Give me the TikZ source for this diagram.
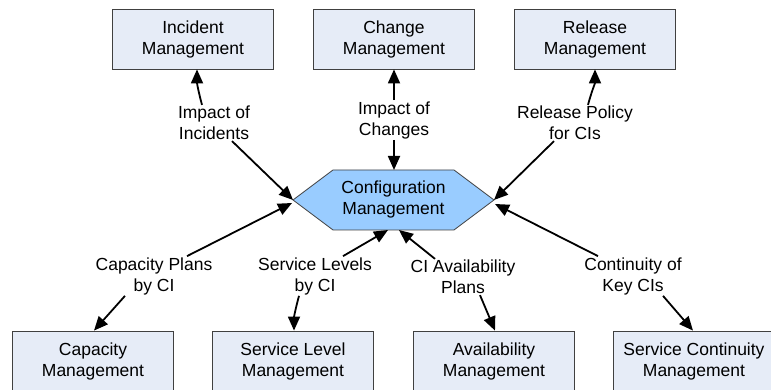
\documentclass[tikz,border=0pt]{standalone}
\usepackage{fontspec}
\setmainfont{Liberation Sans}
\usetikzlibrary{arrows.meta}

\definecolor{boxfill}{RGB}{230,236,247}
\definecolor{hexfill}{RGB}{153,204,255}
\definecolor{edgegray}{RGB}{64,64,64}

\begin{document}
\begin{tikzpicture}[x=1pt, y=1pt,
my box/.style = {draw=edgegray, fill=boxfill,
                 line width=0.8pt,
                 minimum width=161pt, minimum height=60pt,
                 align=center, inner sep=0pt,
                 font=\fontsize{17.5}{21}\selectfont},
my label/.style = {align=center, inner sep=1pt,
                   font=\fontsize{17.5}{21}\selectfont},
my arrow/.style = {-{Triangle[length=14pt, width=12pt]},
                   line width=1.8pt}
                   ]
\useasboundingbox (0,0) rectangle (771,390);

% hexagon
\draw[draw=edgegray, fill=hexfill, line width=0.8pt]
    (293,190) coordinate (cfg W) -- (333,220) -- (454,220) --
    (494,190) coordinate (cfg E) -- (454,160) -- (333,160) -- cycle;
\node[my label] (cfg) at (393.5,190.5) {Configuration\\Management};
\coordinate (cfg N)  at (394,220);
\coordinate (cfg SW) at (292,187);
\coordinate (cfg SE) at (495,186);
\coordinate (cfg S1) at (388,160);
\coordinate (cfg S2) at (399,160);

% top boxes
\node[my box] (inc) at (193,351) {Incident\\Management};
\node[my box] (chg) at (394,351) {Change\\Management};
\node[my box] (rel) at (595,351) {Release\\Management};

% bottom boxes
\node[my box] (cap) at (93,29)  {Capacity\\Management};
\node[my box] (slm) at (293,29) {Service Level\\Management};
\node[my box] (avl) at (494,29) {Availability\\Management};
\node[my box] (con) at (694,29) {Service Continuity\\Management};

% labels
\node[my label] (lbl inc) at (214,267) {Impact of\\Incidents};
\node[my label] (lbl chg) at (394,270) {Impact of\\Changes};
\node[my label] (lbl rel) at (575,267) {Release Policy\\for CIs};
\node[my label] (lbl cap) at (154,114) {Capacity Plans\\by CI};
\node[my label] (lbl slm) at (315,114) {Service Levels\\by CI};
\node[my label] (lbl avl) at (463,113) {CI Availability\\Plans};
\node[my label] (lbl con) at (633,114) {Continuity of\\Key CIs};

% arrows
\draw[my arrow] ([xshift=-12pt]lbl inc.north) to[out=105, in=-90]
                ([xshift=4pt]inc.south);
\draw[my arrow] ([xshift=18pt]lbl inc.south) -- (cfg W);
\draw[my arrow] (lbl chg.north) -- (chg.south);
\draw[my arrow] (lbl chg.south) -- (cfg N);
\draw[my arrow] ([xshift=13pt]lbl rel.north) to[out=75, in=-90]
                (rel.south);
\draw[my arrow] ([xshift=-21pt]lbl rel.south) -- (cfg E);

\draw[my arrow] ([xshift=33pt]lbl cap.north) -- (cfg SW);
\draw[my arrow] ([xshift=-29pt]lbl cap.south) -- ([xshift=1pt]cap.north);
\draw[my arrow] ([xshift=28pt]lbl slm.north) -- (cfg S1);
\draw[my arrow] ([xshift=-16pt]lbl slm.south) to[out=-105, in=90]
                ([xshift=1pt]slm.north);
\draw[my arrow] ([xshift=-28pt]lbl avl.north) -- (cfg S2);
\draw[my arrow] ([xshift=17pt]lbl avl.south) -- ([xshift=1pt]avl.north);
\draw[my arrow] ([xshift=-35pt]lbl con.north) -- (cfg SE);
\draw[my arrow] ([xshift=30pt]lbl con.south) -- ([xshift=-1pt]con.north);

\end{tikzpicture}
\end{document}
